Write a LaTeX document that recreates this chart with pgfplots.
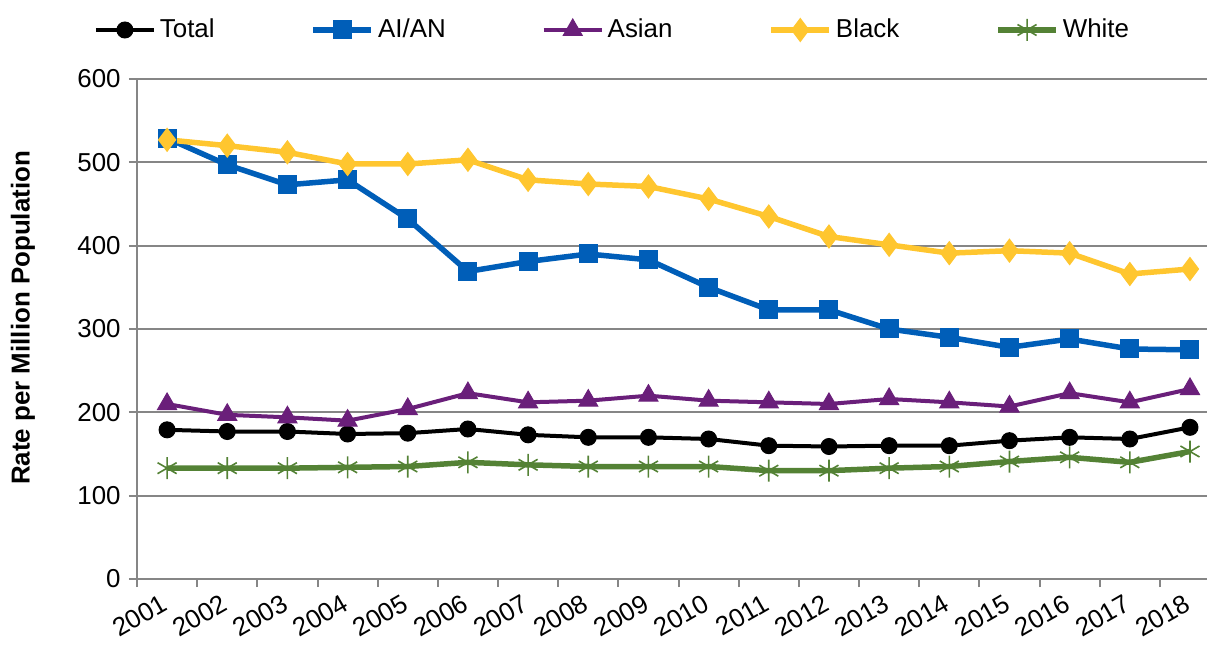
\documentclass[border=0pt]{standalone}
\usepackage{fontspec}
\setmainfont{Liberation Sans}
\usepackage{pgfplots}
\pgfplotsset{compat=1.18}
\usepackage{pgfplotstable}

\definecolor{cTotal}{RGB}{0,0,0}
\definecolor{cAIAN}{RGB}{0,94,184}
\definecolor{cAsian}{RGB}{106,31,122}
\definecolor{cBlack}{RGB}{255,198,47}
\definecolor{cWhite}{RGB}{84,130,53}
\definecolor{axgray}{RGB}{134,134,134}

\pgfplotstableread{
x  total aian asian black white
0  179   529  210   527   133
1  177   497  197   520   133
2  177   473  194   512   133
3  174   479  190   498   134
4  175   432  204   498   135
5  180   369  223   503   140
6  173   381  212   479   137
7  170   390  214   474   135
8  170   383  220   471   135
9  168   350  214   456   135
10 160   323  212   435   130
11 159   323  210   411   130
12 160   300  216   401   133
13 160   290  212   391   135
14 166   278  207   394   141
15 170   288  223   391   146
16 168   276  212   366   140
17 182   275  228   372   153
}\data

\begin{document}
\fontsize{13}{15.6}\selectfont
\begin{tikzpicture}
\begin{axis}[
  scale only axis, width=535bp, height=250bp,
  xmin=-0.5, xmax=17.283, ymin=0, ymax=600,
  axis x line*=bottom, axis y line*=left,
  axis line style={draw=axgray, line width=1bp},
  ymajorgrids, grid style={draw=axgray, line width=1bp},
  ytick={0,100,...,600},
  xtick={0,...,17},
  xticklabels={2001,2002,2003,2004,2005,2006,2007,2008,2009,2010,2011,2012,2013,2014,2015,2016,2017,2018},
  major x tick style={draw=none},
  minor xtick={-0.5,0.5,...,16.5},
  tick align=outside,
  major tick length=4bp, minor tick length=4bp,
  tick style={draw=axgray, line width=1bp},
  /pgf/number format/assume math mode=true,
  tick label style={font=\fontsize{13}{15.6}\selectfont},
  xticklabel style={yshift=-7bp, xshift=-1bp, rotate=30, anchor=east, inner sep=0pt},
  yticklabel style={inner sep=0pt, xshift=-4bp},
  every axis y label/.style={at={(axis description cs:0,0.5)}, xshift=-57bp, yshift=5.5bp, rotate=90, anchor=center, font=\bfseries\fontsize{13}{15.6}\selectfont},
  ylabel={Rate per Million Population},
  legend columns=5,
  legend style={at={(axis description cs:0.4453,1)}, anchor=center, yshift=24.5bp, draw=none, fill=none, font=\fontsize{13}{15.6}\selectfont, /tikz/every even column/.append style={column sep=46bp}},
  legend image code/.code={\draw[mark repeat=2, mark phase=2, #1] plot coordinates {(0bp,0bp) (14.5bp,0bp) (29bp,0bp)};},
]
\addplot[color=cTotal, line width=2bp, mark=*, mark size=4bp, mark options={line width=0.5bp}] table[x=x, y=total] {\data};
\addlegendentry{Total}
\addplot[color=cAIAN, line width=2.75bp, mark=square*, mark size=4.5bp, mark options={line width=0.5bp}] table[x=x, y=aian] {\data};
\addlegendentry{AI/AN}
\addplot[color=cAsian, line width=2bp, mark=triangle*, mark size=5.5bp, mark options={line width=0.5bp}] table[x=x, y=asian] {\data};
\addlegendentry{Asian}
\addplot[color=cBlack, line width=2.75bp, mark=diamond*, mark size=5.75bp, mark options={line width=0.5bp}] table[x=x, y=black] {\data};
\addlegendentry{Black}
\addplot[color=cWhite, line width=2.75bp, mark=asterisk, mark size=5.5bp, mark options={line width=0.8bp}] table[x=x, y=white] {\data};
\addlegendentry{White}
\end{axis}
\pgfresetboundingbox
\useasboundingbox (-68.5bp,-33.5bp) rectangle (535bp,289.5bp);
\end{tikzpicture}
\end{document}
